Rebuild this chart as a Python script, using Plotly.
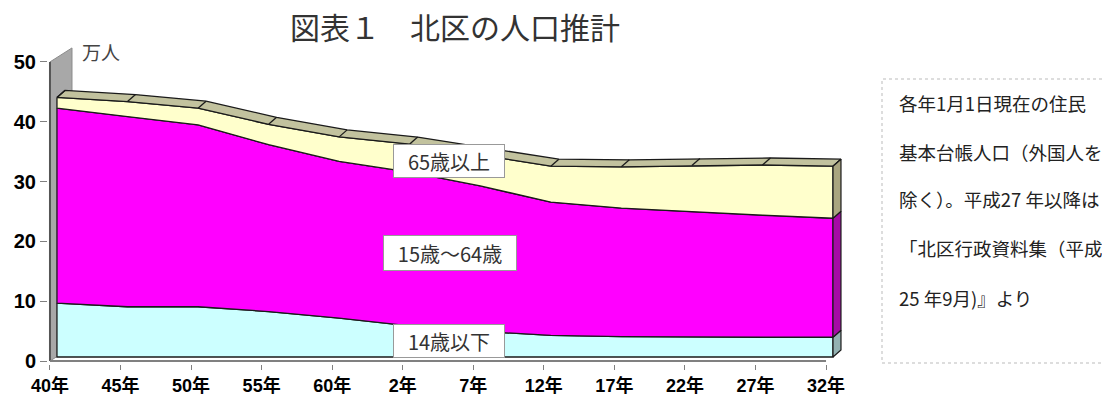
import plotly.graph_objects as go

# ---------------- data (万人) ----------------
categories = ["40年", "45年", "50年", "55年", "60年", "2年", "7年",
              "12年", "17年", "22年", "27年", "32年"]
age_0_14 = [9.0, 8.4, 8.4, 7.6, 6.5, 5.2, 4.3, 3.6, 3.4, 3.3, 3.3, 3.3]
age_15_64 = [32.6, 31.8, 30.4, 27.9, 26.2, 25.7, 24.3, 22.3, 21.5, 21.0, 20.4, 19.9]
age_65_over = [1.8, 2.5, 2.8, 3.4, 4.1, 4.7, 5.2, 6.0, 6.9, 7.7, 8.4, 8.7]
y_ticks = [0, 10, 20, 30, 40, 50]
series_names = ["14歳以下", "15歳～64歳", "65歳以上"]
note_lines = ["各年1月1日現在の住民", "基本台帳人口（外国人を", "除く）。平成27 年以降は",
              "「北区行政資料集（平成", "25 年9月)』より"]

# ---------------- geometry / style ----------------
W, H = 1102, 396
PL, PR, PT, PB = 48, 851, 38, 364
XR = [-0.028, 11.354]
YR = [-0.5, 54.0]
OX, OY = 0.099, 0.67      # front-face depth offset (data units)
DX, DY = 0.113, 1.17      # slab depth
WX, WY = 0.312, 2.34      # wall depth

FRONT = ["#CCFFFF", "#FF00FF", "#FFFFCC"]
SIDE = ["#93B2B2", "#A60AA6", "#A9A57F"]
TOP = "#C2C29E"
EDGE = "#1a1a1a"


def px_x(px):
    return (px - PL) / (PR - PL)


def px_y(py):
    return (PB - py) / (PB - PT)


n = len(categories)
xs = [i + OX for i in range(n)]
c1 = age_0_14
c2 = [a + b for a, b in zip(c1, age_15_64)]
c3 = [a + b for a, b in zip(c2, age_65_over)]
layers = [([0.0] * n, c1), (c1, c2), (c2, c3)]

fig = go.Figure()

# left wall
fig.add_trace(go.Scatter(x=[0, 0, WX, WX, 0], y=[0, 50, 50 + WY, WY, 0],
                         fill="toself", fillcolor="#A8A8A8", mode="lines",
                         line=dict(color="#8a8a8a", width=1), hoverinfo="skip"))
# y axis line
fig.add_trace(go.Scatter(x=[0, 0], y=[0, 50], mode="lines",
                         line=dict(color="#555555", width=2), hoverinfo="skip"))
# base line
fig.add_trace(go.Scatter(x=[0, n - 1], y=[0, 0], mode="lines",
                         line=dict(color="#808080", width=2), hoverinfo="skip"))

# front faces
for (lo, hi), col in zip(layers, FRONT):
    px_ = xs + xs[::-1] + [xs[0]]
    py_ = [v + OY for v in hi] + [v + OY for v in lo[::-1]] + [hi[0] + OY]
    fig.add_trace(go.Scatter(x=px_, y=py_, fill="toself", fillcolor=col, mode="lines",
                             line=dict(color=EDGE, width=1.3), hoverinfo="skip"))

# top band
fx = xs
fy = [v + OY for v in c3]
bx = [v + DX for v in xs]
by = [v + DY for v in fy]
fig.add_trace(go.Scatter(x=fx + bx[::-1] + [fx[0]], y=fy + by[::-1] + [fy[0]],
                         fill="toself", fillcolor=TOP, mode="lines",
                         line=dict(color=EDGE, width=1.3), hoverinfo="skip"))
dxs, dys = [], []
for i in range(n):
    dxs += [fx[i], bx[i], None]
    dys += [fy[i], by[i], None]
fig.add_trace(go.Scatter(x=dxs, y=dys, mode="lines",
                         line=dict(color=EDGE, width=1.3), hoverinfo="skip"))

# right side face
xe = xs[-1]
for (lo, hi), col in zip(layers, SIDE):
    l, h = lo[-1] + OY, hi[-1] + OY
    fig.add_trace(go.Scatter(x=[xe, xe, xe + DX, xe + DX, xe],
                             y=[l, h, h + DY, l + DY, l],
                             fill="toself", fillcolor=col, mode="lines",
                             line=dict(color=EDGE, width=1.2), hoverinfo="skip"))

# series labels
label_pos = [(5.66, 3.3), (5.67, 18.1), (5.66, 33.4)]
label_w = [104, 126, 104]
label_h = [26, 28, 26]
for name, (lx, ly), bw, bh in zip(series_names, label_pos, label_w, label_h):
    fig.add_annotation(x=lx, y=ly, xref="x", yref="y", text=name, showarrow=False,
                       xanchor="center", yanchor="middle",
                       font=dict(family="Noto Sans CJK JP", size=20, color="#333333"),
                       bgcolor="white", bordercolor="#999999", borderwidth=1,
                       borderpad=3, width=bw, height=bh)

# title
fig.add_annotation(x=px_x(455), y=px_y(26), xref="paper", yref="paper",
                   xanchor="center", yanchor="middle",
                   text="図表１　北区の人口推計", showarrow=False,
                   font=dict(family="Noto Sans CJK JP", size=30, color="#333333"))
# unit
fig.add_annotation(x=px_x(101), y=px_y(51), xref="paper", yref="paper",
                   xanchor="center", yanchor="middle",
                   text="万人", showarrow=False,
                   font=dict(family="Noto Sans CJK JP", size=19, color="#444444"))

# note box
fig.add_shape(type="rect", xref="paper", yref="paper",
              x0=px_x(882), x1=px_x(1120), y0=px_y(363), y1=px_y(79),
              line=dict(color="#BBBBBB", width=1, dash="dot"))
for t, cy in zip(note_lines, [103, 152, 199, 248, 298]):
    fig.add_annotation(x=px_x(897), y=px_y(cy), xref="paper", yref="paper",
                       text=t, showarrow=False, xanchor="left", yanchor="middle",
                       font=dict(family="Noto Sans CJK JP", size=18.5, color="#222222"))

fig.update_layout(
    width=W, height=H,
    margin=dict(l=PL, r=W - PR, t=PT, b=H - PB, autoexpand=False),
    paper_bgcolor="white", plot_bgcolor="white",
    showlegend=False,
    xaxis=dict(range=XR, tickvals=list(range(n)), ticktext=categories,
               ticks="outside", ticklen=5, tickcolor="#808080", tickwidth=1,
               showgrid=False, zeroline=False, showline=False, automargin=False,
               tickfont=dict(family="Liberation Sans, Noto Sans CJK JP", size=18,
                             color="black", weight="bold")),
    yaxis=dict(range=YR, tickvals=y_ticks, ticks="outside", ticklen=7,
               tickcolor="#808080", tickwidth=1,
               showgrid=False, zeroline=False, showline=False, automargin=False,
               tickfont=dict(family="Liberation Sans", size=20,
                             color="black", weight="bold")),
)

fig.write_html("out.html")
